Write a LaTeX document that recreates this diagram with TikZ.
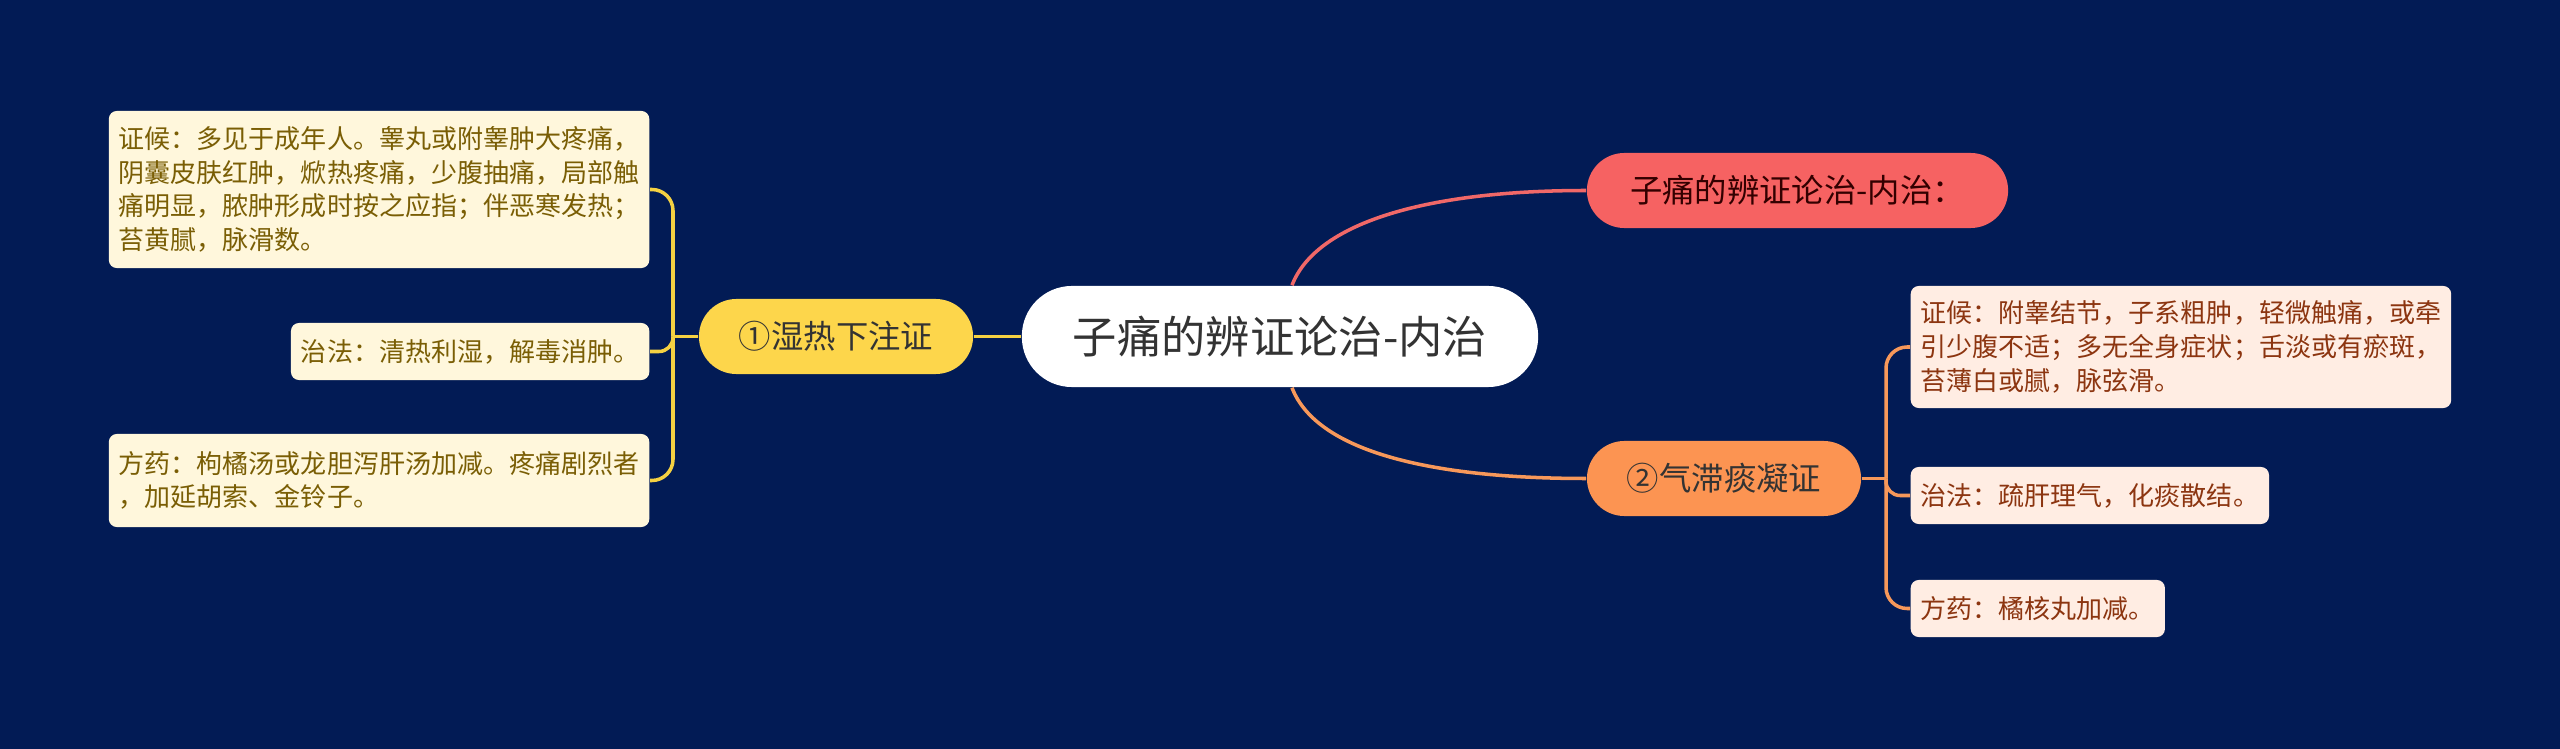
\documentclass[tikz,border=0pt]{standalone}
\usepackage{fontspec}
\setmainfont{Noto Sans CJK SC}
\usetikzlibrary{positioning}
\definecolor{bgnavy}{HTML}{021B55}
\definecolor{yelfill}{HTML}{FDD64B}
\definecolor{redfill}{HTML}{F66262}
\definecolor{orgfill}{HTML}{FC9452}
\definecolor{lleaffill}{HTML}{FFF7DC}
\definecolor{rleaffill}{HTML}{FFEDE3}
\definecolor{ltext}{HTML}{7A5E05}
\definecolor{rtext}{HTML}{8C3510}
\definecolor{darktext}{HTML}{333333}
\definecolor{yline}{HTML}{F5D142}
\definecolor{rline}{HTML}{F06868}
\definecolor{oline}{HTML}{F7985A}

\begin{document}
\begin{tikzpicture}[x=0.01cm,y=-0.01cm,
  topic/.style={rounded corners=0.375cm, minimum height=0.75cm, inner sep=0pt,
    font=\fontsize{9.2}{11}\selectfont, text=darktext},
  leaf/.style={rounded corners=0.08cm, inner xsep=0.1cm, align=left,
    font=\fontsize{7.4}{9.6}\selectfont},
  lleaf/.style={leaf, fill=lleaffill, text=ltext, anchor=east},
  rleaf/.style={leaf, fill=rleaffill, text=rtext, anchor=west},
  link/.style={line width=1pt, rounded corners=6pt}]
\fill[bgnavy] (0,0) rectangle (2560,749);

% central topic and main branches
\node[fill=white, rounded corners=0.5cm, minimum width=5.16cm, minimum height=1.01cm,
  font=\fontsize{12.6}{15}\selectfont, text=darktext] (root) at (1280,336.5) {子痛的辨证论治-内治};
\node[topic, fill=yelfill, minimum width=2.74cm] (shire) at (836,336.5) {①湿热下注证};
\node[topic, fill=redfill, minimum width=4.21cm, text=black!80!red] (neizhi) at (1797.5,190.5) {子痛的辨证论治-内治：};
\node[topic, fill=orgfill, minimum width=2.74cm] (qizhi) at (1724,478.5) {②气滞痰凝证};

% left leaves
\node[lleaf, minimum height=1.57cm] (zhenghou1) at (650,189.5)
  {证候：多见于成年人。睾丸或附睾肿大疼痛，\\阴囊皮肤红肿，焮热疼痛，少腹抽痛，局部触\\痛明显，脓肿形成时按之应指；伴恶寒发热；\\苔黄腻，脉滑数。};
\node[lleaf, minimum height=0.57cm] (zhifa1) at (650,351.5) {治法：清热利湿，解毒消肿。};
\node[lleaf, minimum height=0.93cm] (fangyao1) at (650,480.5)
  {方药：枸橘汤或龙胆泻肝汤加减。疼痛剧烈者\\，加延胡索、金铃子。};

% right leaves
\node[rleaf, minimum height=1.22cm] (zhenghou2) at (1910,347)
  {证候：附睾结节，子系粗肿，轻微触痛，或牵\\引少腹不适；多无全身症状；舌淡或有瘀斑，\\苔薄白或腻，脉弦滑。};
\node[rleaf, minimum height=0.57cm] (zhifa2) at (1910,495.5) {治法：疏肝理气，化痰散结。};
\node[rleaf, minimum height=0.57cm] (fangyao2) at (1910,608.5) {方药：橘核丸加减。};

\coordinate (lspine) at (673,336.5);
\coordinate (rspine) at (1886,478.5);

% connectors
\draw[link, yline] (root.west) -- (shire.east);
\draw[link, yline] (shire.west) -- (lspine);
\draw[link, yline] (lspine) |- (zhenghou1.east);
\draw[link, yline, rounded corners=4pt] (lspine) |- (zhifa1.east);
\draw[link, yline] (lspine) |- (fangyao1.east);
\draw[link, rline] ([xshift=0.12cm]root.north) .. controls (1315,225) and (1420,190.5) .. (neizhi.west);
\draw[link, oline] ([xshift=0.12cm]root.south) .. controls (1315,448) and (1420,478.5) .. (qizhi.west);
\draw[link, oline] (qizhi.east) -- (rspine);
\draw[link, oline] (rspine) |- (zhenghou2.west);
\draw[link, oline, rounded corners=4pt] (rspine) |- (zhifa2.west);
\draw[link, oline] (rspine) |- (fangyao2.west);
\end{tikzpicture}
\end{document}
